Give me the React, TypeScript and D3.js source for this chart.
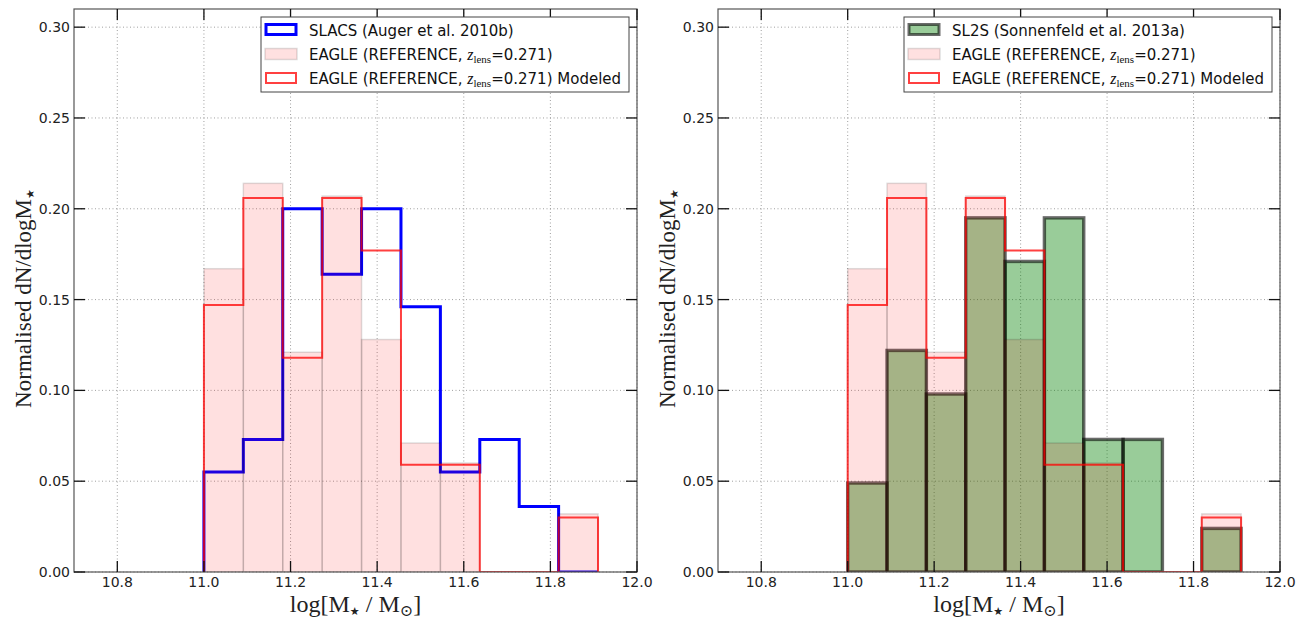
import React from "react";
import * as d3 from "d3";

const binEdges = [11.0, 11.091, 11.182, 11.273, 11.364, 11.455, 11.546, 11.637, 11.728, 11.819, 11.91];
const eagleRef = [0.167, 0.214, 0.121, 0.207, 0.128, 0.071, 0.060, 0, 0, 0.032];
const eagleModeled = [0.147, 0.206, 0.118, 0.206, 0.177, 0.059, 0.059, 0, 0, 0.030];
const slacs = [0.055, 0.073, 0.200, 0.164, 0.200, 0.146, 0.055, 0.073, 0.036, 0];
const sl2s = [0.049, 0.122, 0.098, 0.195, 0.171, 0.195, 0.073, 0.073, 0, 0.024];

const xTicks = [10.8, 11.0, 11.2, 11.4, 11.6, 11.8, 12.0];
const yTicks = [0, 0.05, 0.1, 0.15, 0.2, 0.25, 0.3];
const xDomain = [10.7, 12.0];
const yDomain = [0, 0.31];

const W = 1309;
const H = 619;
const TOP = 9;
const BOTTOM = 572;
const SANS = "'DejaVu Sans', sans-serif";
const SERIF = "'Liberation Serif', 'DejaVu Serif', serif";

const PINK_FILL = "rgba(255,0,0,0.12)";
const PINK_EDGE = "rgba(0,0,0,0.13)";
const RED_LINE = "rgba(255,0,0,0.75)";
const GREEN_FILL = "rgba(0,128,0,0.4)";
const GREEN_EDGE = "rgba(0,0,0,0.58)";

function stepPath(x: d3.ScaleLinear<number, number>, y: d3.ScaleLinear<number, number>, vals: number[]) {
  const p = d3.path();
  p.moveTo(x(binEdges[0]), y(0));
  vals.forEach((v, i) => {
    p.lineTo(x(binEdges[i]), y(v));
    p.lineTo(x(binEdges[i + 1]), y(v));
  });
  p.lineTo(x(binEdges[binEdges.length - 1]), y(0));
  return p.toString();
}

function Bars({ x, y, vals, fill, stroke, sw }: any) {
  return (
    <g>
      {vals.map((v: number, i: number) =>
        v > 0 ? (
          <rect
            key={i}
            x={x(binEdges[i])}
            y={y(v)}
            width={x(binEdges[i + 1]) - x(binEdges[i])}
            height={y(0) - y(v)}
            fill={fill}
            stroke={stroke}
            strokeWidth={sw}
          />
        ) : null
      )}
    </g>
  );
}

function ZLens() {
  return (
    <>
      <tspan fontFamily={SERIF} fontStyle="italic" fontSize={16}>z</tspan>
      <tspan fontFamily={SERIF} fontSize={11} dy={3}>lens</tspan>
      <tspan dy={-3}>=0.271)</tspan>
    </>
  );
}

function Legend({ x1, first }: { x1: number; first: "slacs" | "sl2s" }) {
  const bx = x1 - 376;
  const by = 17;
  const bw = 368;
  const bh = 75;
  const rows = [29.5, 54, 78];
  const px = bx + 4;
  const tx = bx + 48;
  return (
    <g>
      <rect x={bx} y={by} width={bw} height={bh} fill="white" stroke="#444" strokeWidth={1} />
      {first === "slacs" ? (
        <rect x={px + 1} y={rows[0] - 5} width={30} height={10} fill="white" stroke="blue" strokeWidth={3} />
      ) : (
        <rect x={px + 1} y={rows[0] - 5} width={30} height={10} fill={GREEN_FILL} stroke={GREEN_EDGE} strokeWidth={3} />
      )}
      <rect x={px} y={rows[1] - 5.5} width={32} height={11} fill={PINK_FILL} stroke={PINK_EDGE} strokeWidth={1.5} />
      <rect x={px + 1} y={rows[2] - 5} width={30} height={10} fill="white" stroke={RED_LINE} strokeWidth={2} />
      <g fontFamily={SANS} fontSize={15} fill="#111">
        <text x={tx} y={rows[0] + 6}>
          {first === "slacs" ? "SLACS (Auger et al. 2010b)" : "SL2S (Sonnenfeld et al. 2013a)"}
        </text>
        <text x={tx} y={rows[1] + 6}>
          EAGLE (REFERENCE, <ZLens />
        </text>
        <text x={tx} y={rows[2] + 6}>
          EAGLE (REFERENCE, <ZLens /> Modeled
        </text>
      </g>
    </g>
  );
}

function Panel({ x0, x1, kind }: { x0: number; x1: number; kind: "slacs" | "sl2s" }) {
  const x = d3.scaleLinear().domain(xDomain).range([x0, x1]);
  const y = d3.scaleLinear().domain(yDomain).range([BOTTOM, TOP]);
  const tl = 11;
  const clipId = "clip-" + kind;
  return (
    <g>
      <defs>
        <clipPath id={clipId}>
          <rect x={x0} y={TOP} width={x1 - x0} height={BOTTOM - TOP} />
        </clipPath>
      </defs>
      <g stroke="#777" strokeWidth={0.7} strokeDasharray="1,2.5">
        {xTicks.map((t) => (
          <line key={"gx" + t} x1={x(t)} x2={x(t)} y1={TOP} y2={BOTTOM} />
        ))}
        {yTicks.map((t) => (
          <line key={"gy" + t} x1={x0} x2={x1} y1={y(t)} y2={y(t)} />
        ))}
      </g>
      <g clipPath={`url(#${clipId})`}>
        {kind === "slacs" ? (
          <>
            <path d={stepPath(x, y, slacs)} fill="none" stroke="blue" strokeWidth={3} strokeLinejoin="miter" />
            <Bars x={x} y={y} vals={eagleRef} fill={PINK_FILL} stroke={PINK_EDGE} sw={1.5} />
          </>
        ) : (
          <>
            <Bars x={x} y={y} vals={sl2s} fill={GREEN_FILL} stroke={GREEN_EDGE} sw={3.4} />
            <Bars x={x} y={y} vals={eagleRef} fill={PINK_FILL} stroke={PINK_EDGE} sw={1.5} />
          </>
        )}
        <path d={stepPath(x, y, eagleModeled)} fill="none" stroke={RED_LINE} strokeWidth={2} />
      </g>
      <rect x={x0} y={TOP} width={x1 - x0} height={BOTTOM - TOP} fill="none" stroke="#555" strokeWidth={1.2} />
      <g stroke="#111" strokeWidth={1.3}>
        {xTicks.map((t) => (
          <g key={"tx" + t}>
            <line x1={x(t)} x2={x(t)} y1={BOTTOM} y2={BOTTOM - tl} />
            <line x1={x(t)} x2={x(t)} y1={TOP} y2={TOP + tl} />
          </g>
        ))}
        {yTicks.map((t) => (
          <g key={"ty" + t}>
            <line x1={x0} x2={x0 + tl} y1={y(t)} y2={y(t)} />
            <line x1={x1} x2={x1 - tl} y1={y(t)} y2={y(t)} />
          </g>
        ))}
      </g>
      <g fontFamily={SANS} fontSize={14} fill="#222">
        {xTicks.map((t) => (
          <text key={"lx" + t} x={x(t)} y={BOTTOM + 15} textAnchor="middle">
            {d3.format(".1f")(t)}
          </text>
        ))}
        {yTicks.map((t) => (
          <text key={"ly" + t} x={x0 - 4} y={y(t) + 5} textAnchor="end">
            {d3.format(".2f")(t)}
          </text>
        ))}
      </g>
      <text
        transform={`translate(${x0 - 43},${(TOP + BOTTOM) / 2 + 8}) rotate(-90)`}
        textAnchor="middle"
        fontFamily={SERIF}
        fontSize={23}
        fill="#222"
      >
        Normalised dN/dlogM<tspan fontFamily={SANS} fontSize={11} dy={3}>★</tspan>
      </text>
      <text x={(x0 + x1) / 2} y={612} textAnchor="middle" fontFamily={SERIF} fontSize={24} fill="#222">
        log[M<tspan fontFamily={SANS} fontSize={11} dy={3}>★</tspan>
        <tspan dy={-3}> / M</tspan>
        <tspan fontSize={16} dy={4}>⊙</tspan>
        <tspan dy={-4}>]</tspan>
      </text>
      <Legend x1={x1} first={kind} />
    </g>
  );
}

export default function App() {
  return (
    <svg
      width={W}
      height={H}
      viewBox={`0 0 ${W} ${H}`}
      style={{ position: "absolute", left: 0, top: 0, background: "white" }}
    >
      <rect width={W} height={H} fill="white" />
      <Panel x0={74} x1={637} kind="slacs" />
      <Panel x0={718} x1={1280} kind="sl2s" />
    </svg>
  );
}
